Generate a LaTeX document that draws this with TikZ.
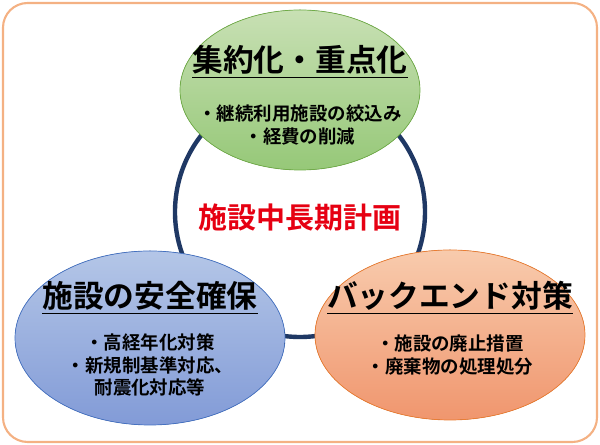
\documentclass[tikz,border=0pt]{standalone}
\usepackage{fontspec}
\newfontfamily\cjk{Noto Sans CJK JP Bold}
\begin{document}
\begin{tikzpicture}[x=0.02cm,y=-0.02cm,
  ttl/.style={font=\cjk\fontsize{17.5}{20}\selectfont},
  body/.style={font=\cjk\fontsize{10.5}{13}\selectfont,align=center}]
\useasboundingbox (0,0) rectangle (600,445);
\draw[draw={rgb,255:red,244;green,177;blue,131},line width=1.2pt,rounded corners=14pt,fill=white] (3,3) rectangle (597,442);
\node[circle,draw={rgb,255:red,31;green,56;blue,100},line width=2.5pt,minimum size=250*0.02cm] (ring) at (300,212) {};
\fill[top color={rgb,255:red,200;green,224;blue,180},bottom color={rgb,255:red,150;green,200;blue,120},draw={rgb,255:red,112;green,173;blue,71}] (300,90) ellipse [x radius=120,y radius=80];
\fill[top color={rgb,255:red,180;green,198;blue,231},bottom color={rgb,255:red,130;green,155;blue,215},draw={rgb,255:red,68;green,114;blue,196}] (150,338) ellipse [x radius=135,y radius=87];
\fill[top color={rgb,255:red,248;green,203;blue,173},bottom color={rgb,255:red,240;green,150;blue,110},draw={rgb,255:red,237;green,125;blue,49}] (450,335) ellipse [x radius=135,y radius=85];
\node[ttl] (t1) at (300,62) {\underline{集約化・重点化}};
\node[body] (b1) at (300,125) {・継続利用施設の絞込み\\・経費の削減};
\node[ttl] (t2) at (150,298) {\underline{施設の安全確保}};
\node[body] (b2) at (150,365) {・高経年化対策\\・新規制基準対応、\\耐震化対応等};
\node[ttl] (t3) at (450,298) {\underline{バックエンド対策}};
\node[body] (b3) at (450,355) {・施設の廃止措置\\・廃棄物の処理処分};
\node[font=\cjk\fontsize{16.5}{18}\selectfont,text={rgb,255:red,230;green,0;blue,18}] (c) at (300,218) {施設中長期計画};
\end{tikzpicture}
\end{document}
